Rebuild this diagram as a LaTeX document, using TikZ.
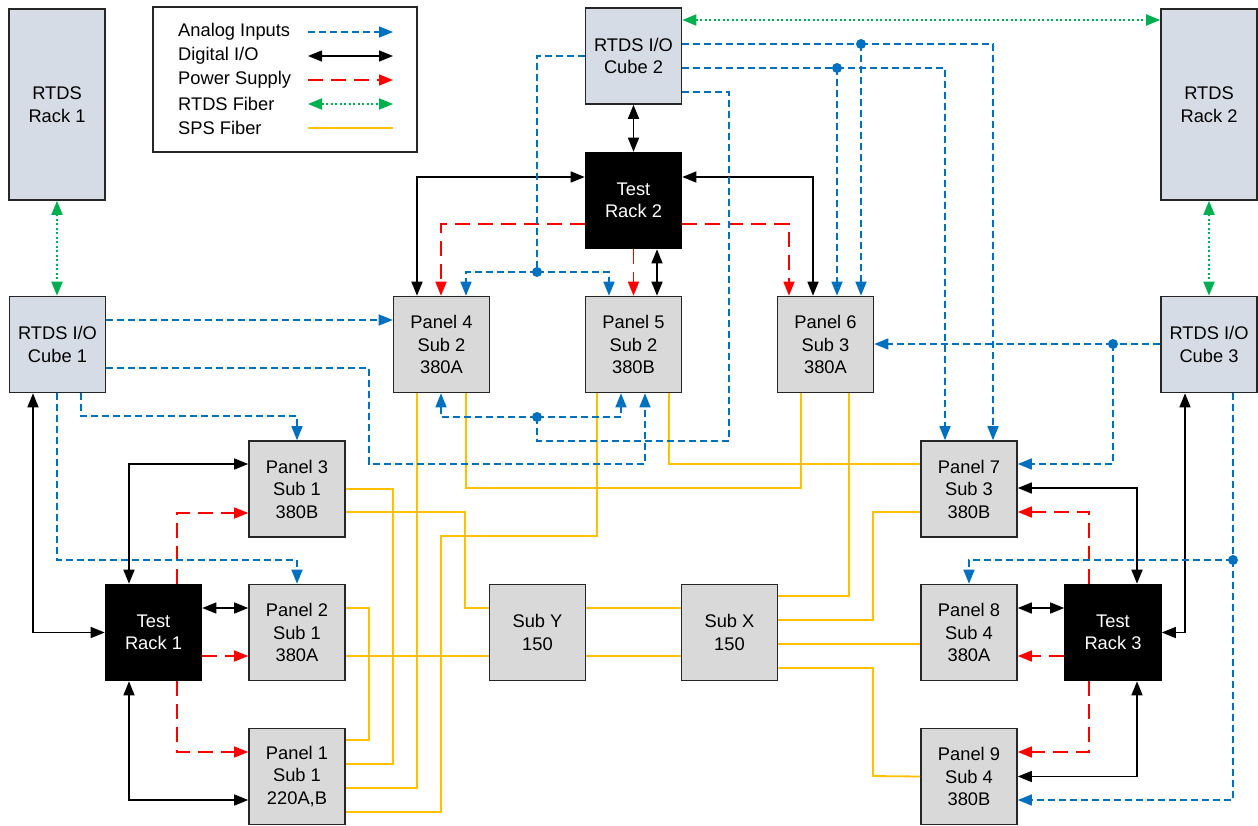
\documentclass[tikz,border=0pt]{standalone}
\usepackage{fontspec}
\setmainfont{Liberation Sans}
\usetikzlibrary{arrows.meta}
\definecolor{aiblue}{HTML}{0070C0}
\definecolor{psred}{HTML}{FF0000}
\definecolor{rfgreen}{HTML}{00B050}
\definecolor{spsyel}{HTML}{FFC000}
\definecolor{rtdsfill}{HTML}{D6DCE5}
\definecolor{panfill}{HTML}{D9D9D9}
\definecolor{edgec}{HTML}{262626}
\begin{document}
\begin{tikzpicture}[x=1pt,y=-1pt,
 box/.style={draw=edgec, line width=1.6pt, minimum width=96pt, minimum height=96pt, inner sep=0pt, align=center, font=\fontsize{18.3}{22.5}\selectfont},
 rtds/.style={box, fill=rtdsfill},
 panel/.style={box, fill=panfill},
 trk/.style={box, fill=black, draw=black, text=white},
 aib/.style={draw=aiblue, line width=1.5pt, dash pattern=on 7pt off 4pt},
 ai/.style={aib, -{Triangle[length=14pt,width=11pt]}},
 dio/.style={draw=black, line width=1.5pt, {Triangle[length=14pt,width=11pt]}-{Triangle[length=14pt,width=11pt]}},
 ps/.style={draw=psred, line width=1.5pt, dash pattern=on 15pt off 8pt, -{Triangle[length=14pt,width=11pt]}},
 rf/.style={draw=rfgreen, line width=1.8pt, dash pattern=on 2pt off 2.5pt, {Triangle[length=14pt,width=11pt]}-{Triangle[length=14pt,width=11pt]}},
 sps/.style={draw=spsyel, line width=1.8pt},
 jdot/.style={circle, fill=aiblue, inner sep=0pt, minimum size=10pt},
 legtext/.style={anchor=west, inner sep=0pt, font=\fontsize{18.3}{22}\selectfont}
]
\useasboundingbox (0,0) rectangle (1258,825);

% nodes
\node[rtds, minimum height=191pt] (rack1) at (57,104.5) {RTDS\\Rack 1};
\node[rtds, minimum height=191pt] (rack2) at (1209,104.5) {RTDS\\Rack 2};
\node[rtds] (cube1) at (57.5,344.5) {RTDS I/O\\Cube 1};
\node[rtds] (cube2) at (633.5,56) {RTDS I/O\\Cube 2};
\node[rtds] (cube3) at (1209,344.5) {RTDS I/O\\Cube 3};
\node[trk] (tr2) at (633.5,200.5) {Test\\Rack 2};
\node[panel] (p4) at (441.5,344.5) {Panel 4\\Sub 2\\380A};
\node[panel] (p5) at (633.5,344.5) {Panel 5\\Sub 2\\380B};
\node[panel] (p6) at (825.5,344.5) {Panel 6\\Sub 3\\380A};
\node[panel] (p3) at (297,489) {Panel 3\\Sub 1\\380B};
\node[panel] (p7) at (969,489) {Panel 7\\Sub 3\\380B};
\node[trk] (tr1) at (153.5,632.5) {Test\\Rack 1};
\node[panel] (p2) at (297,632.5) {Panel 2\\Sub 1\\380A};
\node[panel] (suby) at (537.5,632.5) {Sub Y\\150};
\node[panel] (subx) at (729.5,632.5) {Sub X\\150};
\node[panel] (p8) at (969,632.5) {Panel 8\\Sub 4\\380A};
\node[trk] (tr3) at (1113,632.5) {Test\\Rack 3};
\node[panel] (p1) at (297,776.5) {Panel 1\\Sub 1\\220A,B};
\node[panel] (p9) at (969,776.5) {Panel 9\\Sub 4\\380B};

% legend
\node[draw=edgec, line width=1.5pt, minimum width=264pt, minimum height=145pt, inner sep=0pt] (leg) at (285,79.5) {};
\node[legtext] (t1) at (178,32) {Analog Inputs};
\node[legtext] (t2) at (178,56) {Digital I/O};
\node[legtext] (t3) at (178,80) {Power Supply};
\node[legtext] (t4) at (178,104) {RTDS Fiber};
\node[legtext] (t5) at (178,128) {SPS Fiber};
\coordinate (l1a) at (308,32); \coordinate (l1b) at (393,32);
\coordinate (l2a) at (308,56); \coordinate (l2b) at (393,56);
\coordinate (l3a) at (308,80); \coordinate (l3b) at (393,80);
\coordinate (l4a) at (308,104); \coordinate (l4b) at (393,104);
\coordinate (l5a) at (308,128); \coordinate (l5b) at (393,128);
\draw[ai] (l1a) -- (l1b);
\draw[dio] (l2a) -- (l2b);
\draw[ps] (l3a) -- (l3b);
\draw[rf] (l4a) -- (l4b);
\draw[sps] (l5a) -- (l5b);

% SPS fiber
\draw[sps] (p3.east) -| (393,764) -- (p1.east |- 0,764);
\draw[sps] (p3.east |- 0,512) -| (465,608) -- (suby.west |- 0,608);
\draw[sps] (p2.east |- 0,608) -| (369,740) -- (p1.east |- 0,740);
\draw[sps] (p2.east |- 0,656) -- (suby.west |- 0,656);
\draw[sps] (p1.east |- 0,788) -| (p4.south -| 417,0);
\draw[sps] (p1.east |- 0,812) -| (441,536) -| (p5.south -| 597,0);
\draw[sps] (p4.south -| 466,0) |- (801,488) -- (p6.south -| 801,0);
\draw[sps] (p5.south -| 669,0) |- (p7.west |- 0,464);
\draw[sps] (p6.south -| 849,0) |- (subx.east |- 0,596);
\draw[sps] (subx.east |- 0,620) -| (873,512) -- (p7.west |- 0,512);
\draw[sps] (subx.east |- 0,644) -- (p8.west |- 0,644);
\draw[sps] (subx.east |- 0,668) -| (873,776) -- (p9.west);
\draw[sps] (suby.east |- 0,608) -- (subx.west |- 0,608);
\draw[sps] (suby.east |- 0,656) -- (subx.west |- 0,656);

% RTDS fiber
\draw[rf] (rack1.south) -- (cube1.north -| rack1.south);
\draw[rf] (cube2.east |- 0,20) -- (rack2.west |- 0,20);
\draw[rf] (rack2.south) -- (cube3.north);

% digital I/O
\draw[dio] (cube2.south) -- (tr2.north);
\draw[dio] (tr2.west |- 0,177) -| (p4.north -| 417,0);
\draw[dio] (tr2.east |- 0,177) -| (p6.north -| 813,0);
\draw[dio] (tr2.south -| 657,0) -- (p5.north -| 657,0);
\draw[dio] (cube1.south -| 33,0) |- (tr1.west);
\draw[dio] (tr1.north -| 129,0) |- (p3.west |- 0,464);
\draw[dio] (tr1.east |- 0,608) -- (p2.west |- 0,608);
\draw[dio] (tr1.south -| 129,0) |- (p1.west |- 0,800);
\draw[dio] (p7.east |- 0,488) -| (tr3.north -| 1137,0);
\draw[dio] (cube3.south -| 1185,0) |- (tr3.east);
\draw[dio] (p8.east |- 0,608) -- (tr3.west |- 0,608);
\draw[dio] (tr3.south -| 1137,0) |- (p9.east);

% power supply
\draw[ps] (tr2.west |- 0,224) -| (p4.north -| 441,0);
\draw[ps] (tr2.south) -- (p5.north);
\draw[ps] (tr2.east |- 0,224) -| (p6.north -| 789,0);
\draw[ps] (tr1.north -| 177,0) |- (p3.west |- 0,513);
\draw[ps] (tr1.east |- 0,656) -- (p2.west |- 0,656);
\draw[ps] (tr1.south -| 177,0) |- (p1.west |- 0,752);
\draw[ps] (tr3.north -| 1089,0) |- (p7.east |- 0,512);
\draw[ps] (tr3.west |- 0,656) -- (p8.east |- 0,656);
\draw[ps] (tr3.south -| 1089,0) |- (p9.east |- 0,752);

% analog inputs
\node[jdot] (j1) at (537,272) {};
\node[jdot] (j2) at (861,44) {};
\node[jdot] (j3) at (837,68) {};
\node[jdot] (j4) at (537,417) {};
\node[jdot] (j5) at (1113,344) {};
\node[jdot] (j6) at (1233,560) {};
\draw[aib] (cube2.west) -| (j1.center);
\draw[ai] (j1.center) -| (p4.north -| 466,0);
\draw[ai] (j1.center) -| (p5.north -| 609,0);
\draw[aib] (cube2.east |- 0,44) -- (j2.center);
\draw[ai] (j2.center) -| (p7.north -| 993,0);
\draw[ai] (j2.center) -- (p6.north -| 861,0);
\draw[aib] (cube2.east |- 0,68) -- (j3.center);
\draw[ai] (j3.center) -| (p7.north -| 945,0);
\draw[ai] (j3.center) -- (p6.north -| 837,0);
\draw[aib] (cube2.east |- 0,92) -| (729,441) -| (j4.center);
\draw[ai] (j4.center) -| (p4.south -| 441,0);
\draw[ai] (j4.center) -| (p5.south -| 621,0);
\draw[ai] (cube1.east |- 0,320) -- (p4.west |- 0,320);
\draw[ai] (cube1.east |- 0,368) -| (369,464) -| (p5.south -| 645,0);
\draw[ai] (cube1.south -| 81,0) |- (p3.north |- 0,416) -- (p3.north);
\draw[ai] (cube1.south -| 57,0) |- (p2.north |- 0,560) -- (p2.north);
\draw[aib] (cube3.west |- 0,344) -- (j5.center);
\draw[ai] (j5.center) -- (p6.east |- 0,344);
\draw[ai] (j5.center) |- (p7.east |- 0,464);
\draw[aib] (cube3.south -| 1233,0) -- (j6.center);
\draw[ai] (j6.center) -| (p8.north);
\draw[ai] (j6.center) |- (p9.east |- 0,800);
\end{tikzpicture}
\end{document}
